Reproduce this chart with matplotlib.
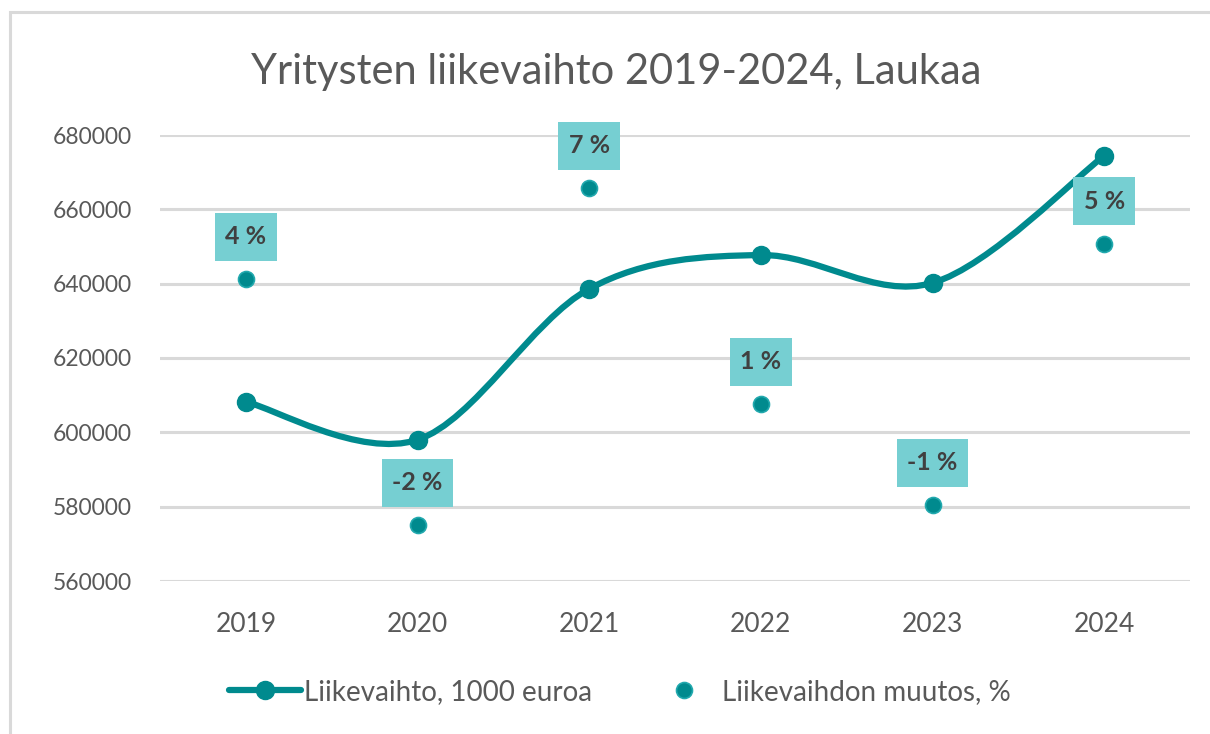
import matplotlib
matplotlib.use("Agg")
import matplotlib.pyplot as plt
from matplotlib.path import Path
from matplotlib.patches import PathPatch, Rectangle
from matplotlib.lines import Line2D
import numpy as np

years = ["2019", "2020", "2021", "2022", "2023", "2024"]
revenue = [608200, 598000, 638600, 647700, 640200, 674400]
change_pct = [4.5, -1.7, 6.8, 1.35, -1.2, 5.4]
change_labels = ["4 %", "-2 %", "7 %", "1 %", "-1 %", "5 %"]
title = "Yritysten liikevaihto 2019-2024, Laukaa"
legend_labels = ["Liikevaihto, 1000 euroa", "Liikevaihdon muutos, %"]
yticks = [560000, 580000, 600000, 620000, 640000, 660000, 680000]

TEAL = "#008A8E"
BOXC = "#76CFD2"
GRID = "#D9D9D9"
TXT = "#595959"
FONT = "Lato"

plt.rcParams['font.family'] = [FONT, 'DejaVu Sans']

fig = plt.figure(figsize=(12.10, 7.34), dpi=100)
W, H = 1210, 734
# chart frame
fig.patches.append(Rectangle((10 / W, -0.1), 1.2, 1.1 - 12 / H, transform=fig.transFigure,
                             fill=False, edgecolor=GRID, linewidth=2.2, zorder=0))

ax = fig.add_axes([160 / W, 1 - 581 / H, 1030 / W, (581 - 135) / H])
x = np.arange(len(years))
ax.set_xlim(-0.5, len(years) - 0.5)
ax.set_ylim(560000, 680000)
ax.set_yticks(yticks)
ax.set_yticklabels([str(v) for v in yticks])
ax.set_xticks(x)
ax.set_xticklabels(years)
ax.tick_params(axis='both', length=0, colors=TXT)
ax.tick_params(axis='y', pad=20, labelsize=16.5)
ax.tick_params(axis='x', pad=22, labelsize=19)
for s in ax.spines.values():
    s.set_visible(False)
ax.grid(axis='y', color=GRID, linewidth=2.2)
ax.set_axisbelow(True)

# smoothed line (Excel-like Bezier smoothing) through data points
pts = list(zip(x.astype(float), revenue))
verts = [pts[0]]
codes = [Path.MOVETO]
n = len(pts)
for i in range(n - 1):
    p0 = pts[i - 1] if i > 0 else pts[i]
    p1 = pts[i]
    p2 = pts[i + 1]
    p3 = pts[i + 2] if i + 2 < n else pts[i + 1]
    c1 = (p1[0] + (p2[0] - p0[0]) / 6, p1[1] + (p2[1] - p0[1]) / 6)
    c2 = (p2[0] - (p3[0] - p1[0]) / 6, p2[1] - (p3[1] - p1[1]) / 6)
    verts += [c1, c2, p2]
    codes += [Path.CURVE4] * 3
patch = PathPatch(Path(verts, codes), facecolor='none', edgecolor=TEAL, linewidth=4.5,
                  capstyle='round', zorder=3)
ax.add_patch(patch)
ax.plot(x, revenue, linestyle='none', marker='o', markersize=13, color=TEAL, zorder=4)


def label_box(x0, y0, width, height, mutation_size):
    padx = 0.42 * mutation_size
    half_h = 0.96 * mutation_size
    cy = y0 + height / 2
    xa, xb = x0 - padx, x0 + width + padx
    ya, yb = cy - half_h, cy + half_h
    return Path([(xa, ya), (xb, ya), (xb, yb), (xa, yb), (xa, ya)],
                [Path.MOVETO, Path.LINETO, Path.LINETO, Path.LINETO, Path.CLOSEPOLY])


ax2 = ax.twinx()
ax2.set_ylim(-3.11, 8.14)
ax2.set_yticks([])
for s in ax2.spines.values():
    s.set_visible(False)
ax2.plot(x, change_pct, linestyle='none', marker='o', markersize=11.5,
         markerfacecolor=TEAL, markeredgecolor="#22A9AE", markeredgewidth=1.2, zorder=5)
for xi, yi, lab in zip(x, change_pct, change_labels):
    ax2.annotate(lab, (xi, yi), xytext=(0, 30.5), textcoords='offset points',
                 ha='center', va='center', fontsize=18, fontweight='bold', color='#404040',
                 bbox=dict(boxstyle=label_box, facecolor=BOXC, edgecolor='none'),
                 zorder=6)

fig.text(616 / W, 1 - 72 / H, title, ha='center', va='center', fontsize=30, color=TXT)

h1 = Line2D([], [], color=TEAL, linewidth=4.5, marker='o', markersize=13, solid_capstyle='round')
h2 = Line2D([], [], linestyle='none', marker='o', markersize=11.5,
            markerfacecolor=TEAL, markeredgecolor="#22A9AE", markeredgewidth=1.2)
fig.legend([h1, h2], legend_labels, loc='center', bbox_to_anchor=(620 / W, 1 - 692 / H),
           ncol=2, frameon=False, fontsize=20, labelcolor=TXT, handlelength=2.6,
           handletextpad=0.1, columnspacing=2.0)

fig.savefig("out.png", dpi=100, facecolor='white')
